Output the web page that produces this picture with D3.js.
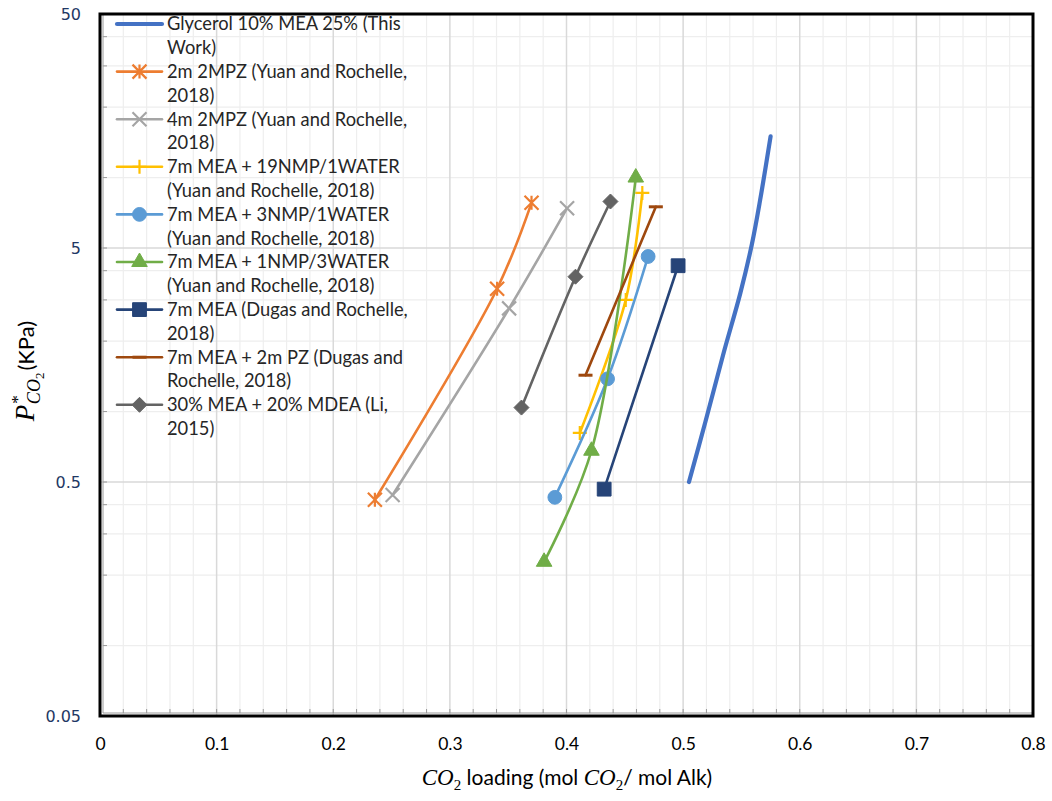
<!DOCTYPE html>
<html>
<head>
<meta charset="utf-8">
<script src="https://cdn.jsdelivr.net/npm/d3@7"></script>
<style>
  html, body { margin: 0; padding: 0; background: #fff; }
  svg { display: block; }
</style>
</head>
<body>
<svg id="chart" width="1052" height="801"></svg>
<script>
// ---------------- DATA ----------------
const xTickValues = [0, 0.1, 0.2, 0.3, 0.4, 0.5, 0.6, 0.7, 0.8];
const xTickLabels = ["0", "0.1", "0.2", "0.3", "0.4", "0.5", "0.6", "0.7", "0.8"];
const yTickValues = [0.05, 0.5, 5, 50];
const yTickLabels = ["0.05", "0.5", "5", "50"];

const seriesNames = [
  ["Glycerol 10% MEA 25% (This", "Work)"],
  ["2m 2MPZ (Yuan and Rochelle,", "2018)"],
  ["4m 2MPZ (Yuan and Rochelle,", "2018)"],
  ["7m MEA + 19NMP/1WATER", "(Yuan and Rochelle, 2018)"],
  ["7m MEA + 3NMP/1WATER", "(Yuan and Rochelle, 2018)"],
  ["7m MEA + 1NMP/3WATER", "(Yuan and Rochelle, 2018)"],
  ["7m MEA (Dugas and Rochelle,", "2018)"],
  ["7m MEA + 2m PZ (Dugas and", "Rochelle, 2018)"],
  ["30% MEA + 20% MDEA (Li,", "2015)"]
];

// [CO2 loading, P*CO2 (kPa)]
const glycerolMEA = [[0.505, 0.5], [0.519, 0.9], [0.535, 1.8], [0.549, 3.2], [0.559, 5.2], [0.566, 8.0], [0.575, 15]];
const mpz2m = [[0.2357, 0.42], [0.3405, 3.35], [0.370, 7.8]];
const mpz4m = [[0.2509, 0.44], [0.3508, 2.76], [0.4005, 7.4]];
const mea19nmp = [[0.4114, 0.81], [0.4508, 3.0], [0.465, 8.6]];
const mea3nmp = [[0.390, 0.43], [0.4352, 1.38], [0.470, 4.6]];
const mea1nmp = [[0.3808, 0.228], [0.4214, 0.68], [0.4594, 10]];
const mea7m = [[0.4323, 0.466], [0.4957, 4.2]];
const mea7mPz = [[0.4163, 1.43], [0.4766, 7.5]];
const meaMdea = [[0.3614, 1.04], [0.4077, 3.77], [0.4377, 7.9]];

const seriesData = [glycerolMEA, mpz2m, mpz4m, mea19nmp, mea3nmp, mea1nmp, mea7m, mea7mPz, meaMdea];

// ---------------- STYLE ----------------
const styles = [
  { color: "#4472C4", width: 4.2, marker: "none" },
  { color: "#ED7D31", width: 2.6, marker: "star" },
  { color: "#A5A5A5", width: 2.6, marker: "x" },
  { color: "#FFC000", width: 2.6, marker: "plus" },
  { color: "#5B9BD5", width: 2.6, marker: "circle" },
  { color: "#70AD47", width: 2.6, marker: "triangle" },
  { color: "#264478", width: 2.6, marker: "square" },
  { color: "#9E480E", width: 2.6, marker: "dash" },
  { color: "#636363", width: 2.6, marker: "diamond" }
];

const svg = d3.select("#chart");
const L = 100, R = 1033, T = 14, B = 716;

const x = d3.scaleLinear().domain([0, 0.8]).range([L, R]);
const y = d3.scaleLog().domain([0.05, 50]).range([B, T]);

// ---------------- GRID ----------------
const grid = svg.append("g");
const xMinor = d3.range(0, 0.8001, 0.02).filter(v => Math.abs(Math.round(v * 10) - v * 10) > 1e-6);
grid.selectAll(".xminor").data(xMinor).enter().append("line")
  .attr("x1", d => x(d)).attr("x2", d => x(d)).attr("y1", T).attr("y2", B)
  .attr("stroke", "#eeeeee").attr("stroke-width", 1.2);
const yMinor = [];
[0.05, 0.5, 5].forEach(b => [2, 4, 6, 8].forEach(k => yMinor.push(b * k)));
grid.selectAll(".yminor").data(yMinor).enter().append("line")
  .attr("x1", L).attr("x2", R).attr("y1", d => y(d)).attr("y2", d => y(d))
  .attr("stroke", "#eeeeee").attr("stroke-width", 1.2);
grid.selectAll(".xmajor").data(xTickValues.slice(1, -1)).enter().append("line")
  .attr("x1", d => x(d)).attr("x2", d => x(d)).attr("y1", T).attr("y2", B)
  .attr("stroke", "#d9d9d9").attr("stroke-width", 1.5);
grid.selectAll(".ymajor").data(yTickValues.slice(1, -1)).enter().append("line")
  .attr("x1", L).attr("x2", R).attr("y1", d => y(d)).attr("y2", d => y(d))
  .attr("stroke", "#d9d9d9").attr("stroke-width", 1.5);

// axis inner lines and ticks
svg.append("line").attr("x1", L + 3).attr("x2", R).attr("y1", B - 3).attr("y2", B - 3).attr("stroke", "#9a9a9a").attr("stroke-width", 1);
svg.append("line").attr("x1", L + 3).attr("x2", L + 3).attr("y1", T).attr("y2", B - 3).attr("stroke", "#9a9a9a").attr("stroke-width", 1);
svg.selectAll(".xtk").data(d3.range(0, 0.8001, 0.02)).enter().append("line")
  .attr("x1", d => x(d)).attr("x2", d => x(d)).attr("y1", B - 3).attr("y2", B - 7)
  .attr("stroke", "#9a9a9a").attr("stroke-width", 1);
svg.selectAll(".ytk").data(yMinor.concat(yTickValues)).enter().append("line")
  .attr("x1", L + 3).attr("x2", L + 7).attr("y1", d => y(d)).attr("y2", d => y(d))
  .attr("stroke", "#9a9a9a").attr("stroke-width", 1);

// frame
svg.append("rect").attr("x", L).attr("y", T).attr("width", R - L).attr("height", B - T)
  .attr("fill", "none").attr("stroke", "#000").attr("stroke-width", 3);

// ---------------- AXIS LABELS ----------------
const xAxis = d3.axisBottom(x).tickValues(xTickValues).tickFormat((d, i) => xTickLabels[i]).tickSize(0).tickPadding(0);
const gx = svg.append("g").attr("transform", `translate(0,${B + 22})`).call(xAxis);
gx.select(".domain").remove();
gx.selectAll("text").attr("font-family", "Lato, 'Open Sans', sans-serif").attr("font-size", 17.5).attr("fill", "#000").attr("dy", "0.7em");

const yAxis = d3.axisLeft(y).tickValues(yTickValues).tickFormat((d, i) => yTickLabels[i]).tickSize(0).tickPadding(0);
const gy = svg.append("g").attr("transform", `translate(81,0)`).call(yAxis);
gy.select(".domain").remove();
gy.selectAll("text").attr("font-family", "'DejaVu Sans', sans-serif").attr("font-size", 16).attr("fill", "#1F3864");

// x title
const xt = svg.append("text").attr("x", 567).attr("y", 785).attr("text-anchor", "middle")
  .attr("font-family", "Lato, sans-serif").attr("font-size", 21).attr("fill", "#000");
xt.append("tspan").attr("font-family", "'Liberation Serif', serif").attr("font-style", "italic").attr("font-size", 23).text("CO");
xt.append("tspan").attr("font-family", "'Liberation Serif', serif").attr("font-size", 15).attr("dy", 5).text("2");
xt.append("tspan").attr("dy", -5).text(" loading (mol ");
xt.append("tspan").attr("font-family", "'Liberation Serif', serif").attr("font-style", "italic").attr("font-size", 23).text("CO");
xt.append("tspan").attr("font-family", "'Liberation Serif', serif").attr("font-size", 15).attr("dy", 5).text("2");
xt.append("tspan").attr("dy", -5).text("/ mol Alk)");

// y title
const yt = svg.append("text").attr("transform", "translate(34,371) rotate(-90)").attr("text-anchor", "middle")
  .attr("font-family", "Lato, sans-serif").attr("font-size", 22).attr("fill", "#000");
yt.append("tspan").attr("font-family", "'Liberation Serif', serif").attr("font-style", "italic").attr("font-size", 27).text("P");
yt.append("tspan").attr("font-family", "'Liberation Serif', serif").attr("font-size", 17).attr("dy", -11).attr("dx", 1).text("*");
yt.append("tspan").attr("font-family", "'Liberation Serif', serif").attr("font-style", "italic").attr("font-size", 18).attr("dy", 17).attr("dx", -9).text("CO");
yt.append("tspan").attr("font-family", "'Liberation Serif', serif").attr("font-size", 13).attr("dy", 4).text("2");
yt.append("tspan").attr("dy", -10).attr("dx", 2).text("(KPa)");

// ---------------- MARKERS ----------------
function markerPath(type) {
  const h = 7;
  switch (type) {
    case "star": return `M0,${-h}L0,${h}M${-h},${-h}L${h},${h}M${-h},${h}L${h},${-h}`;
    case "x": return `M${-h},${-h}L${h},${h}M${-h},${h}L${h},${-h}`;
    case "plus": return `M0,${-h}L0,${h}M${-h},0L${h},0`;
    case "dash": return `M${-h},0L${h},0`;
    case "circle": return d3.symbol(d3.symbolCircle, 150)();
    case "triangle": return d3.symbol(d3.symbolTriangle, 105)();
    case "square": return d3.symbol(d3.symbolSquare, 190)();
    case "diamond": return `M0,-7.5L7.5,0L0,7.5L-7.5,0Z`;
  }
  return null;
}
const strokeMarkers = ["star", "x", "plus", "dash"];

function drawMarker(g, type, color, cx, cy) {
  const p = markerPath(type);
  if (!p) return;
  const el = g.append("path").attr("d", p).attr("transform", `translate(${cx},${cy})`);
  if (strokeMarkers.includes(type)) {
    el.attr("fill", "none").attr("stroke", color).attr("stroke-width", type === "dash" ? 3 : 2.2);
  } else {
    el.attr("fill", color).attr("stroke", color).attr("stroke-width", 1);
  }
}

// ---------------- SERIES ----------------
const line = d3.line().x(d => x(d[0])).y(d => y(d[1])).curve(d3.curveCatmullRom.alpha(0.5));
const plot = svg.append("g");
seriesData.forEach((data, i) => {
  const st = styles[i];
  const g = plot.append("g");
  g.append("path").datum(data).attr("d", line)
    .attr("fill", "none").attr("stroke", st.color).attr("stroke-width", st.width)
    .attr("stroke-linecap", "round").attr("stroke-linejoin", "round");
  data.forEach(d => drawMarker(g, st.marker, st.color, x(d[0]), y(d[1])));
});

// ---------------- LEGEND ----------------
const legend = svg.append("g");
seriesNames.forEach((lines, i) => {
  const st = styles[i];
  const yy = 24 + i * 47.6;
  const g = legend.append("g");
  g.append("line").attr("x1", 117).attr("x2", 162).attr("y1", yy).attr("y2", yy)
    .attr("stroke", st.color).attr("stroke-width", st.width).attr("stroke-linecap", "round");
  drawMarker(g, st.marker, st.color, 139.5, yy);
  lines.forEach((t, j) => {
    g.append("text").attr("x", 167).attr("y", yy + j * 23.8).attr("dy", "0.35em")
      .attr("font-family", "Lato, sans-serif").attr("font-size", 18.3).attr("fill", "#262626").text(t);
  });
});
</script>
</body>
</html>
